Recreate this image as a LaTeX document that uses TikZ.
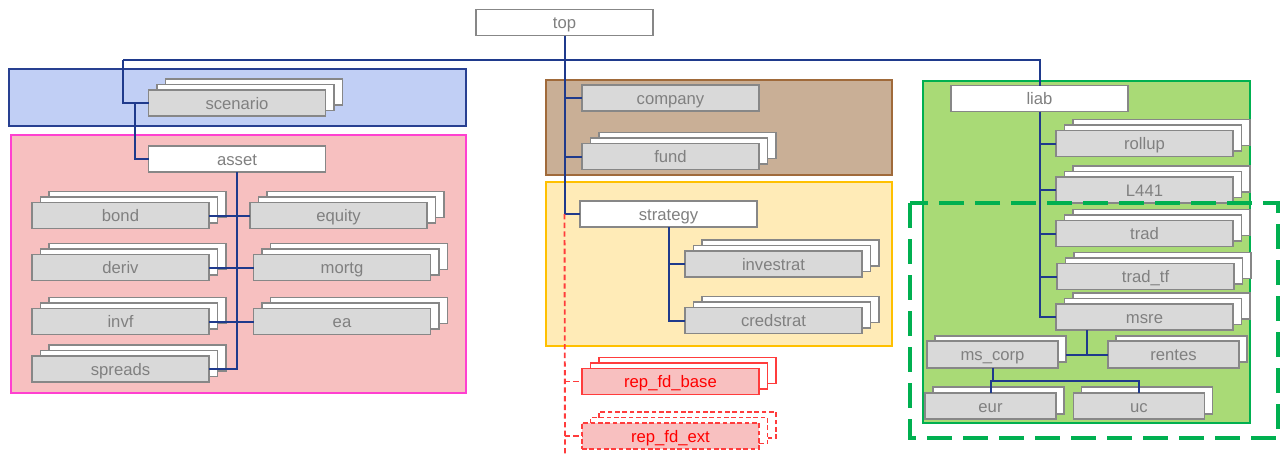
\documentclass[tikz,border=0pt]{standalone}
\usepackage{fontspec}
\setmainfont{Liberation Sans}
\usetikzlibrary{calc}

\definecolor{wireblue}{RGB}{31,58,140}
\definecolor{boxline}{RGB}{135,135,135}
\definecolor{boxgray}{RGB}{217,217,217}
\definecolor{boxtext}{RGB}{128,128,128}
\definecolor{bluefill}{RGB}{193,207,245}
\definecolor{blueline}{RGB}{40,64,145}
\definecolor{pinkfill}{RGB}{247,192,192}
\definecolor{pinkline}{RGB}{255,64,208}
\definecolor{brownfill}{RGB}{201,175,150}
\definecolor{brownline}{RGB}{160,106,58}
\definecolor{yellowfill}{RGB}{255,235,183}
\definecolor{yellowline}{RGB}{255,192,0}
\definecolor{greenfill}{RGB}{169,218,118}
\definecolor{greenline}{RGB}{0,176,80}
\definecolor{redline}{RGB}{255,60,60}
\definecolor{redfill}{RGB}{248,192,192}
\definecolor{redtext}{RGB}{255,0,0}

\tikzset{
  unitbox/.style={draw=boxline, line width=1.4pt, inner sep=0pt, outer sep=0pt,
    minimum width=132.75pt, minimum height=19.5pt, text height=9pt, text depth=0pt,
    font=\fontsize{12.5}{14}\selectfont, text=boxtext},
  smallbox/.style={minimum width=98.25pt, minimum height=20pt},
  graybox/.style={unitbox, fill=boxgray},
  whitebox/.style={unitbox, fill=white},
  redbox/.style={unitbox, draw=redline, fill=redfill, text=redtext},
  redback/.style={unitbox, draw=redline, fill=white},
  reddash/.style={dash pattern=on 3.5pt off 2pt},
  group/.style={line width=1.5pt},
  wire/.style={draw=wireblue, line width=1.5pt},
  redwire/.style={draw=redline, line width=1.4pt, dash pattern=on 4pt off 2.5pt},
  optional/.style={draw=greenline, line width=2.3pt, dash pattern=on 19pt off 8pt},
}

% three stacked boxes: name, centre, text, front style, back style
\newcommand\tripleboxes[5]{%
  \node[#5] (#1-b2) at ([shift={(17,-11)}]#2) {};
  \node[#5] (#1-b1) at ([shift={(8.5,-5.5)}]#2) {};
  \node[#4] (#1) at (#2) {#3};
}
% two stacked boxes: name, centre, text, front style, back style
\newcommand\doubleboxes[5]{%
  \node[#5] (#1-b1) at ([shift={(8,-5.5)}]#2) {};
  \node[#4] (#1) at (#2) {#3};
}

\begin{document}
\begin{tikzpicture}[x=0.75pt,y=-0.75pt]
\useasboundingbox (0,0) rectangle (1285,455);

% grouping panels
\draw[group, fill=bluefill, draw=blueline] (9,69) rectangle (466,126);
\draw[group, fill=pinkfill, draw=pinkline] (11,135) rectangle (466,393);
\draw[group, fill=brownfill, draw=brownline] (546,80) rectangle (892,175);
\draw[group, fill=yellowfill, draw=yellowline] (546,182) rectangle (892,346);
\draw[group, fill=greenfill, draw=greenline] (923,81) rectangle (1250,423);

% root
\node[whitebox] (top) at (564.5,22.5) {top};

% scenario / asset branch
\tripleboxes{scenario}{237,103}{scenario}{graybox}{whitebox}
\node[whitebox] (asset) at (237,159) {asset};
\tripleboxes{bond}{120.5,215.5}{bond}{graybox}{whitebox}
\tripleboxes{equity}{338.5,215.5}{equity}{graybox}{whitebox}
\tripleboxes{deriv}{120.5,267.5}{deriv}{graybox}{whitebox}
\tripleboxes{mortg}{342,267.5}{mortg}{graybox}{whitebox}
\tripleboxes{invf}{120.5,321.5}{invf}{graybox}{whitebox}
\tripleboxes{ea}{342,321.5}{ea}{graybox}{whitebox}
\tripleboxes{spreads}{120.5,369}{spreads}{graybox}{whitebox}

% company / fund / strategy branch
\node[graybox] (company) at (670.5,98) {company};
\tripleboxes{fund}{670.5,156.5}{fund}{graybox}{whitebox}
\node[whitebox] (strategy) at (668.5,214) {strategy};
\tripleboxes{investrat}{773.5,264}{investrat}{graybox}{whitebox}
\tripleboxes{credstrat}{773.5,320.5}{credstrat}{graybox}{whitebox}
\tripleboxes{repbase}{670.5,381.5}{rep\_fd\_base}{redbox}{redback}
\tripleboxes{repext}{670.5,436}{rep\_fd\_ext}{redbox,reddash}{redback,reddash}

% liabilities branch
\node[whitebox] (liab) at (1039.5,98.5) {liab};
\tripleboxes{rollup}{1144.5,143.5}{rollup}{graybox}{whitebox}
\tripleboxes{L441}{1144.5,190}{L441}{graybox}{whitebox}
\tripleboxes{trad}{1144.5,233.5}{trad}{graybox}{whitebox}
\tripleboxes{tradtf}{1145.5,276.5}{trad\_tf}{graybox}{whitebox}
\tripleboxes{msre}{1144.5,317}{msre}{graybox}{whitebox}
\doubleboxes{mscorp}{992.5,354.5}{ms\_corp}{graybox,smallbox}{whitebox,smallbox}
\doubleboxes{rentes}{1173.5,354.5}{rentes}{graybox,smallbox}{whitebox,smallbox}
\doubleboxes{eur}{990.5,406}{eur}{graybox,smallbox}{whitebox,smallbox}
\doubleboxes{uc}{1139,406}{uc}{graybox,smallbox}{whitebox,smallbox}

% optional part of the liabilities
\draw[optional] (910,203) rectangle (1278,438);

% junction points
\coordinate (busL) at (123,60);
\coordinate (sj) at (135,103);
\coordinate (mj) at (1087,354.5);
\coordinate (ej) at (992.5,381);
\coordinate (redend) at (565,455);

% connectors
\draw[wire] (top.south) -- (top.south |- strategy.west) -- (strategy.west);
\draw[wire] (top.south |- company.west) -- (company.west);
\draw[wire] (top.south |- fund.west) -- (fund.west);
\draw[wire] (busL) -- (liab.north |- busL) -- (liab.north);
\draw[wire] (busL) |- (scenario.west);
\draw[wire] (sj) |- (asset.west);
\draw[wire] (asset.south) -- (asset.south |- spreads.east) -- (spreads.east);
\draw[wire] (bond.east) -- (equity.west);
\draw[wire] (deriv.east) -- (mortg.west);
\draw[wire] (invf.east) -- (ea.west);
\draw[wire] (strategy.south) |- (credstrat.west);
\draw[wire] (strategy.south |- investrat.west) -- (investrat.west);
\draw[redwire] (top.south |- strategy.west) -- (redend);
\draw[redwire] (top.south |- repbase.west) -- (repbase.west);
\draw[redwire] (top.south |- repext.west) -- (repext.west);
\draw[wire] (liab.south) |- (msre.west);
\draw[wire] (liab.south |- rollup.west) -- (rollup.west);
\draw[wire] (liab.south |- L441.west) -- (L441.west);
\draw[wire] (liab.south |- trad.west) -- (trad.west);
\draw[wire] (liab.south |- tradtf.west) -- (tradtf.west);
\draw[wire] (msre.south -| mj) -- (mj);
\draw[wire] (mscorp-b1.east |- mscorp.east) -- (rentes.west);
\draw[wire] (mscorp.south) -- (ej);
\draw[wire] (eur.north) -- (eur.north |- ej) -- (uc.north |- ej) -- (uc.north);
\end{tikzpicture}
\end{document}
